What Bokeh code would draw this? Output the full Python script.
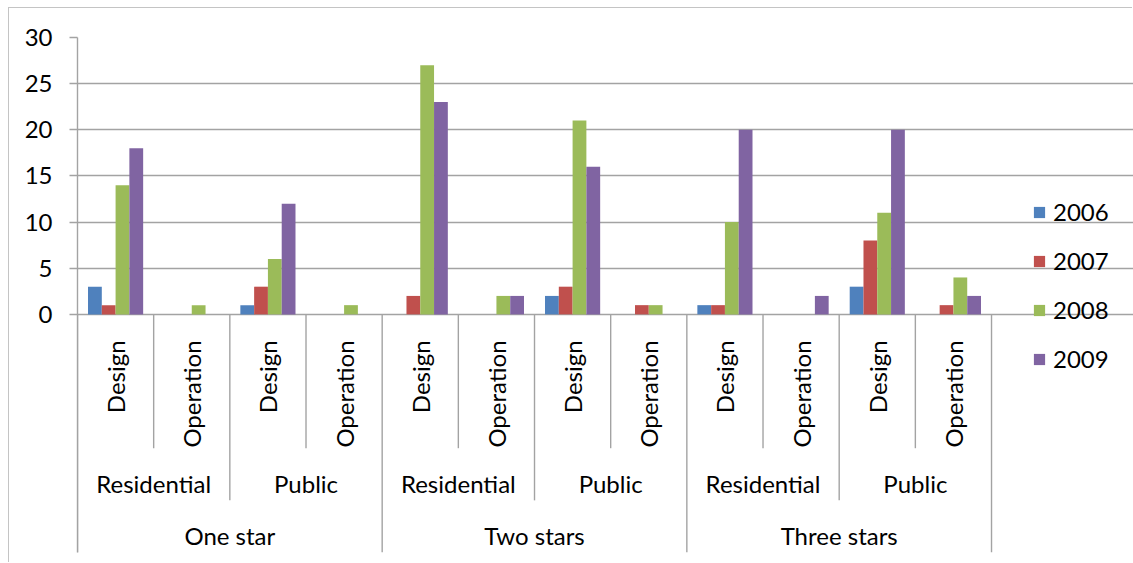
import math

from bokeh.core.properties import value
from bokeh.embed import file_html
from bokeh.models import (ColumnDataSource, FixedTicker, Legend, LegendItem,
                          Range1d)
from bokeh.plotting import figure
from bokeh.resources import INLINE
from bokeh.transform import dodge

# ---- data -------------------------------------------------------------
stars = ["One star", "Two stars", "Three stars"]
buildings = ["Residential", "Public"]
phases = ["Design", "Operation"]
years = ["2006", "2007", "2008", "2009"]

# counts in axis order: star -> building -> phase
v2006 = [3, 0, 1, 0, 0, 0, 2, 0, 1, 0, 3, 0]
v2007 = [1, 0, 3, 0, 2, 0, 3, 1, 1, 0, 8, 1]
v2008 = [14, 1, 6, 1, 27, 2, 21, 1, 10, 0, 11, 4]
v2009 = [18, 0, 12, 0, 23, 2, 16, 0, 20, 2, 20, 2]

y_ticks = [0, 5, 10, 15, 20, 25, 30]

# ---- style ------------------------------------------------------------
FONT = "Lato"
FS = "24px"
GRID = "#a3a3a3"
colors = ["#4F81BD", "#C0504D", "#9BBB59", "#8064A2"]
BAR_W = 0.181
X_END = 13.864         # one unit per category; extra room on the right for the legend
Y_MIN = -25.8          # room below zero for the category label bands
PHASE_TOP = -2.82      # top end of the rotated Design/Operation labels
PHASE_SEP = -14.5      # depth of separators between phases
BUILD_SEP = -20.15     # depth of separators between building types
BUILD_Y = -18.3
STAR_Y = -23.95

factors = [(s, b, ph) for s in stars for b in buildings for ph in phases]
n = len(factors)
per_star = len(buildings) * len(phases)
x_center = [i + 0.5 for i in range(n)]

source = ColumnDataSource(dict(x=x_center, v2006=v2006, v2007=v2007,
                               v2008=v2008, v2009=v2009))

p = figure(width=1124, height=555, output_backend="svg", toolbar_location=None,
           x_range=Range1d(0, X_END), y_range=Range1d(Y_MIN, 30),
           x_axis_location=None,
           min_border_left=68, min_border_right=0, min_border_top=29,
           min_border_bottom=11, outline_line_color=None,
           background_fill_color="white", border_fill_color="white")
p.margin = (8, 0, 0, 9)
p.styles = {"box-shadow": "-1px -1px 0 0 #c4c4c4"}

# value axis
p.yaxis.ticker = FixedTicker(ticks=y_ticks)
p.yaxis.axis_line_color = GRID
p.yaxis.axis_line_width = 1.4
p.yaxis.major_tick_line_color = GRID
p.yaxis.major_tick_line_width = 1.4
p.yaxis.major_tick_out = 8
p.yaxis.major_tick_in = 0
p.yaxis.minor_tick_line_color = None
p.yaxis.major_label_standoff = 17
p.yaxis.major_label_text_font = FONT
p.yaxis.major_label_text_font_size = FS
p.yaxis.major_label_text_color = "black"
p.ygrid.ticker = FixedTicker(ticks=y_ticks)
p.ygrid.grid_line_color = GRID
p.ygrid.grid_line_width = 1.4
p.ygrid.bounds = (0, n)
p.xgrid.grid_line_color = None

# bars
offsets = [-1.5 * BAR_W, -0.5 * BAR_W, 0.5 * BAR_W, 1.5 * BAR_W]
items = []
for yr, col, off in zip(years, colors, offsets):
    r = p.vbar(x=dodge("x", off), top="v" + yr, bottom=0,
               width=BAR_W, source=source, fill_color=col, line_color=None)
    items.append(LegendItem(label=yr, renderers=[r]))

# category axis: separators between categories, deeper for higher levels
sep_x, sep_y1 = [], []
for i in range(n + 1):
    sep_x.append(i)
    if i % per_star == 0:
        sep_y1.append(Y_MIN)
    elif i % len(phases) == 0:
        sep_y1.append(BUILD_SEP)
    else:
        sep_y1.append(PHASE_SEP)
p.segment(x0=sep_x, x1=sep_x, y0=[0] * len(sep_x), y1=sep_y1,
          line_color=GRID, line_width=1.4)

# category labels, three levels
p.text(x=x_center, y=[PHASE_TOP] * n, text=[f[2] for f in factors],
       angle=math.pi / 2, text_align="right", text_baseline="middle",
       text_font=value(FONT), text_font_size=FS, text_color="black")
mid = [(s, b) for s in stars for b in buildings]
mid_x = [len(phases) * (j + 0.5) for j in range(len(mid))]
p.text(x=mid_x, y=[BUILD_Y] * len(mid), text=[m[1] for m in mid],
       text_align="center", text_baseline="middle",
       text_font=value(FONT), text_font_size=FS, text_color="black")
star_x = [per_star * (k + 0.5) for k in range(len(stars))]
p.text(x=star_x, y=[STAR_Y] * len(stars), text=stars,
       text_align="center", text_baseline="middle",
       text_font=value(FONT), text_font_size=FS, text_color="black")

legend = Legend(items=items, location=(955, 179), orientation="vertical",
                glyph_width=14, glyph_height=14, label_standoff=7,
                label_height=28, spacing=20, padding=0, margin=0,
                label_text_font=FONT, label_text_font_size=FS,
                label_text_color="black", border_line_color=None,
                background_fill_alpha=0)
p.add_layout(legend, "center")

open("out.html", "w").write(file_html(p, INLINE))
